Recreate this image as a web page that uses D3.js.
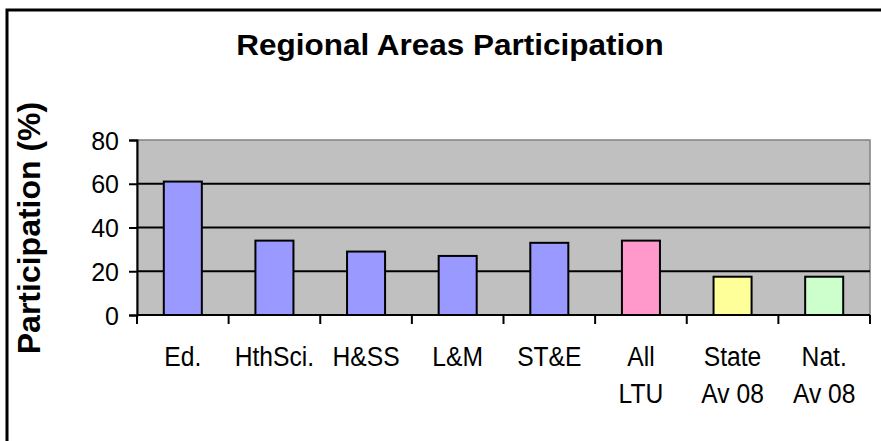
<!DOCTYPE html>
<html lang="en">
<head>
<meta charset="UTF-8">
<title>Regional Areas Participation</title>
<script src="https://d3js.org/d3.v7.min.js"></script>
<style>
  body { margin: 0; background: #fff; }
  text { font-family: "Liberation Sans", Arial, sans-serif; fill: #000; }
</style>
</head>
<body>
<svg id="chart" width="881" height="441"></svg>
<script>
// data
var categories = ["Ed.", "HthSci.", "H&SS", "L&M", "ST&E", "All|LTU", "State|Av 08", "Nat.|Av 08"];
var values = [61, 34, 29, 27, 33, 34, 17.5, 17.5];
var barColors = ["#9999FF", "#9999FF", "#9999FF", "#9999FF", "#9999FF", "#FF99CC", "#FFFF99", "#CCFFCC"];
var yTicks = [0, 20, 40, 60, 80];

var svg = d3.select("#chart");

// outer frame (right and bottom edges fall outside the picture)
svg.append("rect")
   .attr("x", 7).attr("y", 10)
   .attr("width", 900).attr("height", 460)
   .style("fill", "white").style("stroke", "black").style("stroke-width", 3);

var plotLeft = 137, plotRight = 870, plotTop = 140, plotBottom = 315;

var x = d3.scaleBand()
          .domain(categories)
          .range([plotLeft, plotRight])
          .paddingInner(0.585)
          .paddingOuter(0.2925);
var y = d3.scaleLinear()
          .domain([0, 80])
          .range([plotBottom, plotTop]);

// plot background
svg.append("rect")
   .attr("x", plotLeft).attr("y", plotTop)
   .attr("width", plotRight - plotLeft).attr("height", plotBottom - plotTop)
   .style("fill", "#C0C0C0").style("stroke", "#808080").style("stroke-width", 1.5);

// gridlines
svg.selectAll("line.grid")
   .data(yTicks.filter(function(d){ return d > 0 && d < 80; }))
   .enter().append("line")
   .attr("class", "grid")
   .attr("x1", plotLeft).attr("x2", plotRight)
   .attr("y1", function(d){ return y(d); })
   .attr("y2", function(d){ return y(d); })
   .style("stroke", "black").style("stroke-width", 2);

// bars
svg.selectAll("rect.bar")
   .data(values)
   .enter().append("rect")
   .attr("class", "bar")
   .attr("x", function(d, i){ return x(categories[i]); })
   .attr("y", function(d){ return y(d); })
   .attr("width", x.bandwidth())
   .attr("height", function(d){ return plotBottom - y(d); })
   .style("fill", function(d, i){ return barColors[i]; })
   .style("stroke", "black").style("stroke-width", 2);

// y axis
var yAxis = d3.axisLeft(y).tickValues(yTicks).tickSize(8).tickPadding(10);
var gy = svg.append("g")
   .attr("transform", "translate(" + plotLeft + ",0)")
   .call(yAxis);
gy.select(".domain").style("stroke-width", 2);
gy.selectAll(".tick line").style("stroke-width", 2);
gy.selectAll(".tick text")
  .style("font-size", "25px")
  .attr("dy", "0.36em")
  .style("font-family", "'Liberation Sans', Arial, sans-serif");

// x axis line and boundary ticks
svg.append("line")
   .attr("x1", plotLeft).attr("x2", plotRight)
   .attr("y1", plotBottom).attr("y2", plotBottom)
   .style("stroke", "black").style("stroke-width", 2);
var step = x.step();
svg.selectAll("line.xtick")
   .data(d3.range(categories.length + 1))
   .enter().append("line")
   .attr("class", "xtick")
   .attr("x1", function(i){ return plotLeft + i * step; })
   .attr("x2", function(i){ return plotLeft + i * step; })
   .attr("y1", plotBottom).attr("y2", plotBottom + 9)
   .style("stroke", "black").style("stroke-width", 2);

// category labels (two lines where needed)
var labels = svg.selectAll("g.xlabel")
   .data(categories)
   .enter().append("g")
   .attr("class", "xlabel")
   .attr("transform", function(d){ return "translate(" + (x(d) + x.bandwidth() / 2) + ",0)"; });
labels.each(function(d){
    var g = d3.select(this);
    d.split("|").forEach(function(part, j){
        g.append("text")
         .attr("text-anchor", "middle")
         .attr("transform", "translate(0," + (366 + j * 37) + ") scale(0.88,1)")
         .style("font-size", "28px")
         .text(part);
    });
});

// title
svg.append("text")
   .attr("text-anchor", "middle")
   .attr("transform", "translate(450,55) scale(1.05,1)")
   .style("font-size", "30px").style("font-weight", "bold")
   .text("Regional Areas Participation");

// y axis title
svg.append("text")
   .attr("text-anchor", "middle")
   .attr("transform", "translate(40,228) rotate(-90)")
   .style("font-size", "32px").style("font-weight", "bold")
   .text("Participation (%)");
</script>
</body>
</html>
